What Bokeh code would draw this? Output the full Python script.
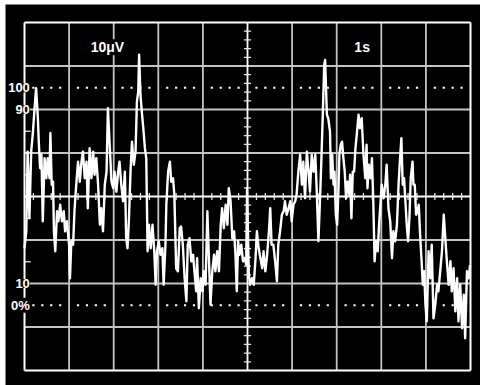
import numpy as np
from bokeh.plotting import figure
from bokeh.models import Label, Range1d
from bokeh.embed import file_html
from bokeh.resources import INLINE

# ---- data (time in s, signal in uV) ----
time_s = [
    0.00, 0.04, 0.07, 0.11, 0.15, 0.19, 0.22, 0.26, 0.30, 0.32,
    0.35, 0.38, 0.41, 0.45, 0.49, 0.52, 0.56, 0.58, 0.61, 0.64,
    0.66, 0.69, 0.73, 0.76, 0.80, 0.84, 0.88, 0.91, 0.95, 1.00,
    1.02, 1.05, 1.09, 1.12, 1.16, 1.20, 1.24, 1.27, 1.31, 1.35,
    1.39, 1.42, 1.46, 1.50, 1.54, 1.57, 1.61, 1.65, 1.69, 1.72,
    1.76, 1.80, 1.84, 1.87, 1.91, 1.95, 1.99, 2.02, 2.06, 2.10,
    2.13, 2.17, 2.21, 2.25, 2.28, 2.31, 2.34, 2.38, 2.41, 2.45,
    2.49, 2.52, 2.55, 2.57, 2.60, 2.63, 2.67, 2.70, 2.73, 2.76,
    2.79, 2.83, 2.87, 2.91, 2.94, 2.97, 3.01, 3.05, 3.09, 3.12,
    3.16, 3.18, 3.22, 3.26,
    3.29, 3.33, 3.36, 3.40, 3.44, 3.48, 3.51, 3.55, 3.59, 3.63,
    3.66, 3.70, 3.74, 3.78, 3.81, 3.85, 3.87, 3.91, 3.95, 3.99,
    4.02, 4.06, 4.10, 4.13, 4.17, 4.21, 4.25, 4.28, 4.32, 4.36,
    4.40, 4.43, 4.47, 4.51, 4.55, 4.58, 4.62, 4.66, 4.70, 4.73,
    4.76, 4.79, 4.82, 4.86, 4.90, 4.94, 4.97, 4.99, 5.03, 5.06,
    5.10, 5.14, 5.18, 5.21, 5.25, 5.29, 5.33, 5.36, 5.40, 5.44,
    5.48, 5.51, 5.54, 5.58, 5.62, 5.66, 5.69, 5.73, 5.77, 5.81,
    5.84, 5.88, 5.92, 5.96, 5.99, 6.03, 6.07, 6.10, 6.14, 6.18,
    6.22, 6.25, 6.29, 6.33, 6.37, 6.40, 6.44, 6.48, 6.52, 6.55,
    6.59, 6.63, 6.66, 6.69, 6.72, 6.74, 6.78, 6.81, 6.85, 6.87,
    6.90, 6.93, 6.95, 6.98, 7.01, 7.04, 7.06, 7.09, 7.12, 7.15,
    7.18, 7.21, 7.24, 7.28, 7.30, 7.33, 7.36, 7.39, 7.42, 7.45,
    7.49, 7.52, 7.56, 7.60, 7.64, 7.67, 7.69, 7.72, 7.76, 7.79,
    7.82, 7.85, 7.88, 7.92, 7.95, 7.97, 8.01, 8.05, 8.09, 8.12,
    8.16, 8.20, 8.24, 8.27, 8.31, 8.35, 8.39, 8.42, 8.45, 8.48,
    8.51, 8.54, 8.57, 8.60, 8.63, 8.66, 8.70, 8.72, 8.75, 8.78,
    8.81, 8.84, 8.87, 8.90, 8.93, 8.96, 8.99, 9.02, 9.06, 9.10,
    9.13, 9.17, 9.21, 9.25, 9.28, 9.32, 9.36, 9.40, 9.43, 9.47,
    9.51, 9.55, 9.58, 9.62, 9.66, 9.70, 9.73, 9.77, 9.81, 9.85,
    9.88, 9.92, 9.96, 9.99,
]
signal_uV = [
    -11.9, -8.0, 10.3, -5.0, 10.3, 14.9, 19.5, 24.9, 18.0, 12.6,
    6.5, 9.6, -5.7, 8.8, 4.2, 8.8, 4.2, 14.6, 2.7, 3.4,
    -8.0, -12.6, -3.4, -5.7, -1.9, -5.7, -3.4, -8.0, -5.7, -11.1,
    -18.8, -10.3, -11.1, -3.4, 2.7, 8.0, 3.4, 7.3, 10.3, 4.2,
    8.0, -2.7, 11.1, 4.2, 10.3, 5.0, 8.8, 2.7, -6.5, -2.7,
    -8.0, 2.7, 5.7, 20.3, 11.9, 3.4, 1.9, 5.7, 1.1, 5.7,
    8.0, 2.7, -1.1, 5.7, -9.6, -11.9, -5.7, 6.5, 12.6, 7.3,
    10.3, 21.8, 24.1, 32.6, 23.4, 19.5, 14.9, 11.1, 8.8, -12.6,
    -6.5, -11.9, -6.5, -12.6, -20.3, -12.6, -10.3, -13.4, -11.9, -20.3,
    -11.1, -1.9, 5.7, 8.0,
    3.4, 4.2, 0.4, -16.5, -17.2, -7.3, -6.9, -11.1, -18.8, -24.1,
    -11.1, -9.6, -14.9, -13.4, -17.2, -21.8, -14.2, -25.7, -18.8, -21.8,
    -17.2, -20.3, -3.4, -12.6, -24.9, -17.2, -13.4, -17.2, -12.6, -17.2,
    -6.5, -2.7, -7.3, -1.9, -6.5, 1.9, -1.1, -9.6, -8.0, -13.4,
    -21.8, -10.3, -13.4, -11.1, -14.9, -14.2, -15.7, 1.9, -18.0, -20.3,
    -18.8, -20.3, -14.2, -8.0, -11.9, -14.2, -16.5, -12.6, -17.2, -13.4,
    -8.0, -2.7, -11.1, -11.1, -14.9, -19.5, -11.1, -8.0, -4.2, -3.4,
    -1.1, -4.2, -2.7, -1.1, -5.7, -1.9, -1.1, 0.4, 5.7, 9.6,
    2.7, 8.0, -0.4, 10.3, 5.7, 1.1, 9.6, 5.7, 9.6, 1.9,
    -10.3, 0.4, 9.6, 19.5, 30.3, 31.4, 18.8, 18.0, 14.9, 4.2,
    9.6, 2.7, 5.7, -4.2, -6.5, 1.9, 9.6, 11.9, 12.6, 8.8,
    5.7, -0.4, 3.4, 0.4, 5.0, -5.0, 5.7, 5.7, 11.1, 14.2,
    18.8, 15.7, 18.0, 9.6, 4.2, 11.9, 1.9, 7.3, 4.2, 8.8,
    -1.1, -14.9, -10.3, -12.6, -6.5, -3.4, 2.7, -0.4, 2.7, 7.3,
    -2.7, -5.7, -14.2, -8.0, -10.3, -6.5, 3.4, 8.8, 13.4, 2.7,
    4.2, -1.1, -6.5, -10.3, -5.0, 4.2, 8.0, 2.7, 2.7, -4.2,
    -3.4, -1.9, -8.8, -14.2, -20.3, -17.2, -24.9, -28.7, -12.6, -18.8,
    -11.1, -28.0, -24.9, -20.3, -21.8, -17.2, -12.6, -4.2, -8.8, -14.9,
    -20.3, -14.9, -21.8, -16.5, -26.4, -18.8, -28.7, -20.3, -30.3, -22.6,
    -32.6, -17.2, -18.8, -15.7,
]

# ---- graticule description ----
uV_per_div = 10
s_per_div = 1
n_xdiv = 10
n_ydiv = 8
pct_labels = ["100", "90", "10", "0%"]
pct_levels = [25, 20, -20, -25]          # uV
header_texts = ["10\u03bcV", "1s"]
header_x = [1.86, 7.57]
header_y = 34.3

FONT = "Liberation Sans"
GRAY = "#c4c4c4"
WHITE = "#ffffff"

x_max = n_xdiv * s_per_div
y_max = n_ydiv / 2 * uV_per_div

p = figure(width=475, height=381, output_backend="svg", toolbar_location=None,
           x_range=Range1d(-0.426, 10.224), y_range=Range1d(-43.45, 44.14),
           x_axis_location=None, y_axis_location=None, min_border=0,
           background_fill_color="black", border_fill_color="black",
           outline_line_color=None, margin=(4, 0, 0, 5))
p.xgrid.visible = False
p.ygrid.visible = False

# inner grid lines
vx = [k * s_per_div for k in range(1, n_xdiv) if k != n_xdiv // 2]
p.segment(x0=vx, y0=[-y_max] * len(vx), x1=vx, y1=[y_max] * len(vx),
          line_color=GRAY, line_width=1.8)
hy = [k * uV_per_div for k in range(-n_ydiv // 2 + 1, n_ydiv // 2) if k != 0]
p.segment(x0=[0] * len(hy), y0=hy, x1=[x_max] * len(hy), y1=hy,
          line_color=GRAY, line_width=1.8)

# center axes
p.segment(x0=[x_max / 2, 0], y0=[-y_max, 0], x1=[x_max / 2, x_max], y1=[y_max, 0],
          line_color=WHITE, line_width=1.8)

# minor ticks on center axes (1/5 division)
tx = [k * s_per_div / 5 for k in range(1, n_xdiv * 5) if k % 5 != 0]
p.segment(x0=tx, y0=[-0.8] * len(tx), x1=tx, y1=[0.8] * len(tx),
          line_color="#e6e6e6", line_width=1.3)
ty = [k * uV_per_div / 5 for k in range(-n_ydiv * 5 // 2 + 1, n_ydiv * 5 // 2) if k % 5 != 0]
p.segment(x0=[x_max / 2 - 0.08] * len(ty), y0=ty, x1=[x_max / 2 + 0.08] * len(ty), y1=ty,
          line_color="#e6e6e6", line_width=1.3)

# half-division ticks on left edge
ly = [-15, -5, 5, 15]
p.segment(x0=[0] * len(ly), y0=ly, x1=[0.14] * len(ly), y1=ly,
          line_color=GRAY, line_width=1.5)

# dotted 0% / 100% lines
dx = [k * s_per_div / 5 for k in range(1, n_xdiv * 5) if k % 5 != 0]
for lvl in (pct_levels[0], pct_levels[-1]):
    p.scatter(x=dx, y=[lvl] * len(dx), marker="square", size=2.2,
              fill_color=WHITE, line_color=None)

# frame
p.segment(x0=[0, 0, 0, x_max], y0=[-y_max, y_max, -y_max, -y_max],
          x1=[x_max, x_max, 0, x_max], y1=[-y_max, y_max, y_max, y_max],
          line_color=WHITE, line_width=2)

# trace
p.line(time_s, signal_uV, line_color=WHITE, line_width=2.4, line_join="round")

# percent labels
for txt, lvl in zip(pct_labels, pct_levels):
    p.add_layout(Label(x=0.12, y=lvl, text=txt, text_align="right",
                       text_baseline="middle", text_color=WHITE, text_font=FONT,
                       text_font_style="bold", text_font_size="13px",
                       background_fill_color="black"))

# header labels
for txt, hx in zip(header_texts, header_x):
    p.add_layout(Label(x=hx, y=header_y, text=txt, text_align="center",
                       text_baseline="middle", text_color=WHITE, text_font=FONT,
                       text_font_style="bold", text_font_size="14px",
                       background_fill_color="black"))

open("out.html", "w").write(file_html(p, INLINE))
